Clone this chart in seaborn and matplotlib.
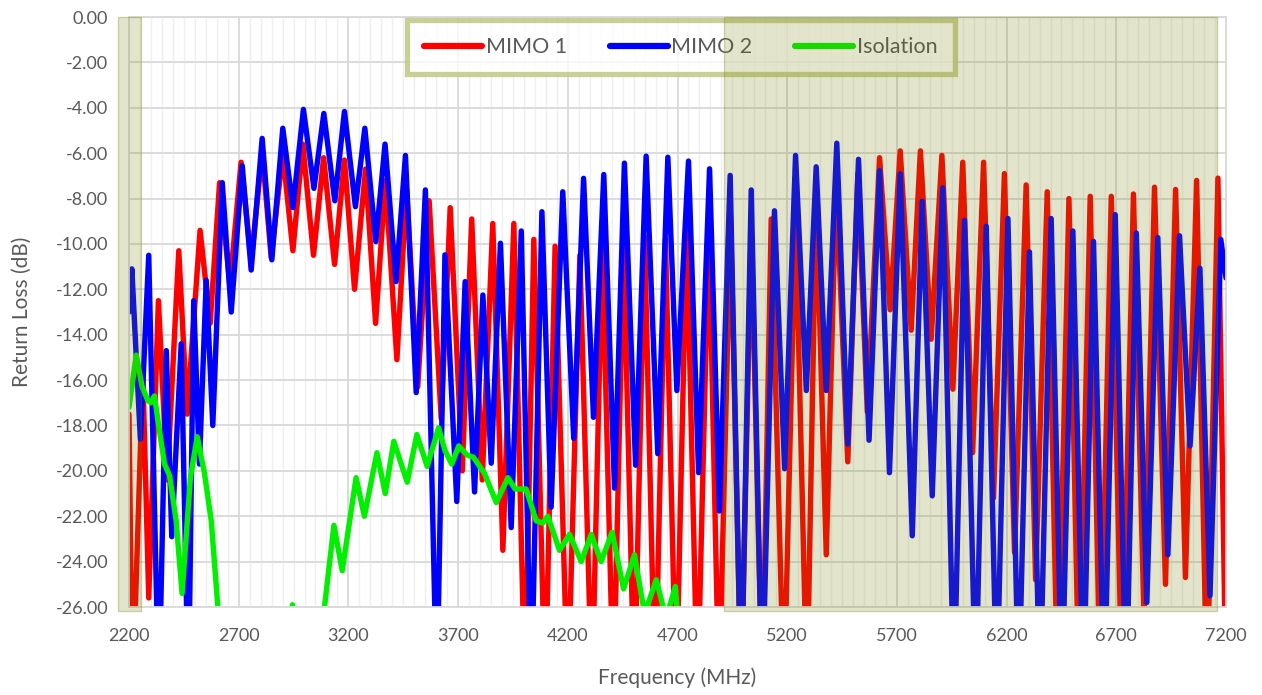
import numpy as np
import pandas as pd
import matplotlib
matplotlib.use('Agg')
import matplotlib.pyplot as plt
import seaborn as sns
from matplotlib.ticker import MultipleLocator, FixedLocator, FuncFormatter

# --- data (peaks / dips, dB) ---
mimo1_freq = [2200, 2216, 2263, 2290, 2334, 2374, 2427, 2465, 2524, 2570,
              2613, 2660, 2711, 2757, 2807, 2848, 2901, 2947, 2992, 3041,
              3087, 3137, 3182, 3228, 3278, 3324, 3369, 3421, 3465, 3516,
              3568, 3623, 3664, 3719, 3762, 3810, 3858, 3904, 3954, 4005,
              4045, 4097, 4142, 4200, 4255, 4310, 4357, 4408, 4454, 4503,
              4550, 4598, 4645, 4694, 4742, 4791, 4843, 4889, 4942, 4990,
              5036, 5086, 5127, 5185, 5238, 5290, 5332, 5378, 5423, 5476,
              5522, 5565, 5621, 5669, 5715, 5765, 5807, 5856, 5905, 5955,
              6000, 6045, 6095, 6140, 6190, 6236, 6289, 6332, 6385, 6433,
              6484, 6530, 6581, 6627, 6677, 6726, 6778, 6826, 6874, 6924,
              6970, 7015, 7066, 7113, 7163, 7200]
mimo1_db = [-17.5, -30, -15.7, -25.6, -12.5, -20.4, -10.3, -17.5, -9.4, -13.5,
            -7.3, -11.8, -6.4, -10.8, -5.9, -10.6, -6.0, -10.3, -5.6, -10.5,
            -6.2, -10.9, -6.3, -12.0, -6.7, -13.5, -7.2, -15.1, -7.6, -16.3,
            -8.1, -17.7, -8.4, -20.0, -8.9, -20.4, -9.1, -23.5, -9.1, -30,
            -9.8, -30, -10.1, -30, -10.5, -30, -10.1, -30, -9.9, -30,
            -9.7, -30, -9.8, -30, -9.2, -30, -9.2, -30, -8.8, -30,
            -9.2, -30, -8.9, -30, -8.6, -30, -7.8, -23.7, -7.3, -19.6,
            -6.9, -17.4, -6.2, -12.9, -5.9, -13.8, -5.9, -14.2, -6.1, -16.4,
            -6.4, -19.2, -6.4, -21.2, -6.9, -23.6, -7.4, -24.8, -7.7, -30,
            -8.0, -30, -7.9, -30, -7.9, -30, -7.8, -26.5, -7.5, -25.0,
            -7.6, -24.7, -7.2, -30, -7.1, -30]

mimo2_freq = [2200, 2213, 2252, 2290, 2336, 2370, 2395, 2438, 2471, 2495,
              2521, 2552, 2582, 2625, 2666, 2716, 2757, 2807, 2851, 2901,
              2947, 2995, 3043, 3088, 3138, 3182, 3232, 3275, 3325, 3367,
              3417, 3460, 3509, 3551, 3603, 3640, 3694, 3732, 3775, 3813,
              3851, 3893, 3942, 3988, 4033, 4082, 4124, 4177, 4227, 4272,
              4317, 4364, 4413, 4458, 4509, 4557, 4610, 4656, 4697, 4750,
              4796, 4846, 4891, 4940, 4990, 5036, 5086, 5142, 5188, 5238,
              5287, 5332, 5378, 5426, 5476, 5525, 5573, 5621, 5666, 5715,
              5770, 5815, 5861, 5909, 5960, 6008, 6059, 6107, 6155, 6206,
              6255, 6304, 6352, 6403, 6452, 6502, 6550, 6596, 6645, 6695,
              6745, 6791, 6839, 6889, 6935, 6988, 7036, 7081, 7127, 7176,
              7200]
mimo2_db = [-13.0, -11.1, -18.6, -10.5, -30, -14.7, -22.9, -14.4, -30, -12.5,
            -19.7, -11.6, -18.0, -7.3, -13.0, -6.55, -11.15, -5.35, -10.7, -4.9,
            -8.4, -4.07, -7.55, -4.25, -8.1, -4.16, -8.36, -4.9, -9.9, -5.6,
            -11.66, -6.1, -16.55, -7.62, -30, -10.48, -21.35, -11.66, -20.93, -12.25,
            -19.66, -9.97, -22.5, -9.43, -30, -8.58, -21.6, -7.7, -18.57, -7.11,
            -17.64, -6.94, -20.76, -6.44, -19.75, -6.13, -19.24, -6.18, -16.46, -6.35,
            -20.08, -6.69, -21.77, -6.98, -30, -7.62, -30, -8.54, -19.9, -6.1,
            -16.46, -6.6, -16.46, -5.56, -18.82, -6.27, -18.65, -6.77, -20.08, -6.91,
            -22.86, -8.12, -21.1, -7.53, -30, -8.96, -30, -9.22, -30, -8.88,
            -30, -10.35, -30, -8.88, -30, -9.43, -30, -9.89, -30, -8.71,
            -30, -9.52, -25.8, -9.72, -23.7, -9.64, -18.9, -11.07, -25.5, -9.8,
            -11.5]

iso_freq = [2200, 2233, 2260, 2286, 2300, 2316, 2340, 2362, 2385, 2415,
            2442, 2460, 2480, 2511, 2544, 2575, 2605, 2640, 2910, 2945,
            2980, 3060, 3091, 3134, 3172, 3235, 3273, 3330, 3368, 3407,
            3468, 3512, 3559, 3611, 3640, 3671, 3703, 3740, 3770, 3798,
            3820, 3874, 3927, 3960, 4010, 4056, 4085, 4109, 4162, 4208,
            4261, 4307, 4352, 4402, 4454, 4504, 4550, 4603, 4648, 4690,
            4730]
iso_db = [-17.2, -14.9, -16.3, -16.9, -17.0, -16.7, -18.3, -19.7, -20.2, -22.2,
          -25.4, -23.0, -20.3, -18.5, -20.1, -22.2, -26.0, -30, -30, -25.9,
          -30, -30, -26.0, -22.4, -24.4, -20.3, -22.0, -19.2, -21.0, -18.7,
          -20.5, -18.4, -19.8, -18.1, -19.1, -19.7, -18.9, -19.3, -19.4, -19.8,
          -20.1, -21.4, -20.3, -20.8, -20.8, -22.2, -22.3, -22.0, -23.5, -22.8,
          -24.0, -22.8, -24.0, -22.7, -25.2, -23.7, -26.3, -24.8, -26.5, -25.1,
          -30]

series_names = ['MIMO 1', 'MIMO 2', 'Isolation']
series_colors = ['#FF0000', '#0000FF', '#00F000']
band_ranges = [(2148, 2253), (4910, 7157)]
x_ticks = [2200, 2700, 3200, 3700, 4200, 4700, 5200, 5700, 6200, 6700, 7200]

sns.set_theme(style='white')
plt.rcParams['font.family'] = ['Lato', 'DejaVu Sans']

fig, ax = plt.subplots(figsize=(12.62, 6.95), dpi=100)
fig.subplots_adjust(left=0.1022, right=0.9715, top=0.9755, bottom=0.1266)

frames = [
    pd.DataFrame({'freq': mimo1_freq, 'db': mimo1_db}),
    pd.DataFrame({'freq': mimo2_freq, 'db': mimo2_db}),
    pd.DataFrame({'freq': iso_freq, 'db': iso_db}),
]
for df, name, col in zip(frames, series_names, series_colors):
    sns.lineplot(data=df, x='freq', y='db', ax=ax, color=col, lw=3.9,
                 label=name, estimator=None, solid_joinstyle='round',
                 solid_capstyle='round')

# shaded bands (drawn over the curves, like the original overlay)
for lo, hi in band_ranges:
    ax.axvspan(lo, hi, ymin=-0.007, ymax=1.0,
               facecolor=(0.443, 0.498, 0.0, 0.2),
               edgecolor=(0.443, 0.498, 0.0, 0.3), lw=1.0,
               zorder=10, clip_on=False)

ax.set_xlim(2200, 7200)
ax.set_ylim(-26, 0)
ax.xaxis.set_major_locator(FixedLocator(x_ticks))
ax.xaxis.set_minor_locator(MultipleLocator(50))
ax.yaxis.set_major_locator(MultipleLocator(2))
ax.yaxis.set_major_formatter(FuncFormatter(lambda v, p: f'{v + 0:.2f}'))
ax.grid(which='major', color='#D9D9D9', linewidth=1.3)
ax.grid(which='minor', axis='x', color='#EFEFEF', linewidth=1.0)
ax.set_axisbelow(True)
for s in ax.spines.values():
    s.set_color('#D9D9D9')
    s.set_linewidth(1.3)

ax.tick_params(which='both', length=0, colors='#595959', labelsize=13, pad=15)

ax.set_xlabel('Frequency (MHz)', fontsize=15, color='#595959')
ax.set_ylabel('Return Loss (dB)', fontsize=15, color='#595959')
ax.xaxis.label.set_va('center')
ax.yaxis.label.set_va('center')
ax.xaxis.set_label_coords(0.5, -0.12)
ax.yaxis.set_label_coords(-0.0975, 0.5)

leg = ax.legend(loc='center', bbox_to_anchor=(0.503, 0.949), ncol=3,
                fontsize=15.5, frameon=True, fancybox=False,
                handlelength=2.7, handletextpad=0.15, columnspacing=2.0,
                borderpad=0.8, borderaxespad=0)
leg.get_frame().set_edgecolor('#BCC57C')
leg.get_frame().set_linewidth(3.8)
leg.get_frame().set_facecolor('white')
for t in leg.get_texts():
    t.set_color('#595959')
for h in leg.get_lines():
    h.set_linewidth(4.5)

fig.savefig('out.png', dpi=100)
